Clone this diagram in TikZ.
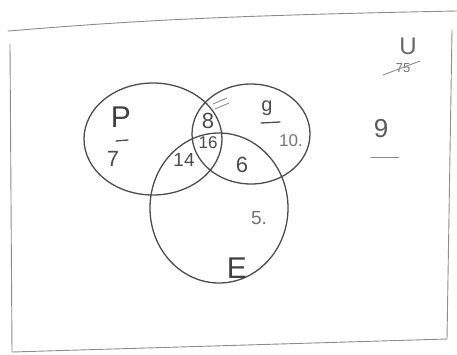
\documentclass[tikz,border=0pt]{standalone}
\usepackage{fontspec}
\setmainfont{Liberation Sans}
\begin{document}
\begin{tikzpicture}[x=1pt, y=-1pt, line width=1.3pt, line cap=round,
  pencil/.style={draw=black!70},
  faint/.style={draw=black!45, line width=0.9pt},
  num/.style={text=black!70, font=\fontsize{22}{24}\selectfont, inner sep=0pt},
  big/.style={text=black!75, font=\fontsize{30}{32}\selectfont, inner sep=0pt}]
  \useasboundingbox (0,0) rectangle (457,354);
  \coordinate (TL) at (8,31); \coordinate (TR) at (457,11);
  \coordinate (RT) at (452,30);
  \coordinate (BR) at (447,339); \coordinate (BL) at (12,352);
  \draw[faint] (TL) .. controls (120,22) and (200,16) .. (TR);
  \draw[faint] (RT) -- (BR) -- (BL);
  \draw[faint] (10,44) -- (BL);
  % the three sets
  \draw[pencil] (153,139) ellipse [x radius=69, y radius=56];
  \draw[pencil] (251,134) ellipse [x radius=59, y radius=50];
  \draw[pencil] (219,208) ellipse [x radius=69, y radius=75];
  % labels
  \node[big] (labP) at (121,117) {P};
  \draw[pencil] (116,141) -- (128,140);
  \node[big] (labE) at (237,268) {E};
  \node[num, font=\fontsize{20}{22}\selectfont] (labG) at (267,108) {g};
  \draw[pencil] (261,123) -- (280,122);
  \draw[faint] (213,104) -- (227,98);
  \draw[faint] (215,109) -- (229,103);
  \node[num] (nP) at (113,159) {7};
  \node[num] (nPG) at (208,121) {8};
  \node[num, font=\fontsize{17}{19}\selectfont] (nPGE) at (208,143) {16};
  \node[num, font=\fontsize{19}{21}\selectfont] (nPE) at (184,160) {14};
  \node[num] (nGE) at (242,165) {6};
  \node[num, font=\fontsize{17}{19}\selectfont, text=black!55] (nG) at (291,141) {10.};
  \node[num, font=\fontsize{19}{21}\selectfont, text=black!55] (nE) at (259,218) {5.};
  % universe
  \node[num, font=\fontsize{24}{26}\selectfont, text=black!60] (labU) at (408,46) {U};
  \node[num, font=\fontsize{13}{15}\selectfont, text=black!55] (total) at (403,68) {75};
  \draw[faint] (383,75) -- (420,61);
  \node[num, font=\fontsize{26}{28}\selectfont, text=black!65] (rest) at (381,129) {9};
  \draw[faint] (371,157) -- (399,157);
\end{tikzpicture}
\end{document}
